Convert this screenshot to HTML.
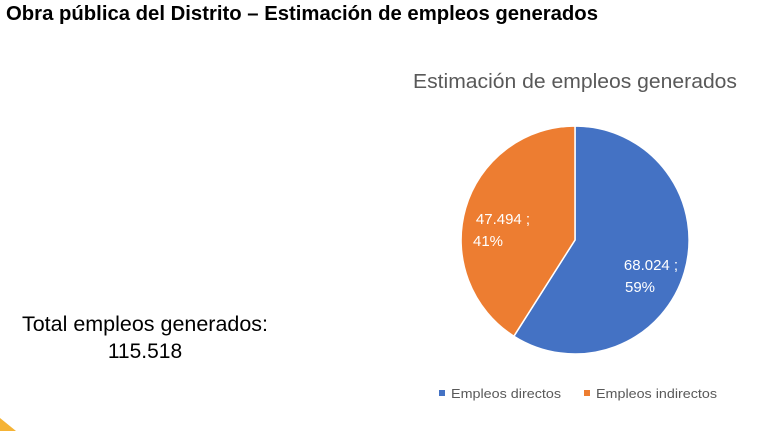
<!DOCTYPE html>
<html><head><meta charset="utf-8"><style>
html,body{margin:0;padding:0;background:#fff;}
svg{display:block;font-family:"Liberation Sans",sans-serif;}
</style></head><body>
<svg width="764" height="431" viewBox="0 0 764 431" xmlns="http://www.w3.org/2000/svg">
<rect width="764" height="431" fill="#fff"/>
<text x="6" y="20" font-size="20" font-weight="bold" fill="#000" textLength="592" lengthAdjust="spacingAndGlyphs">Obra pública del Distrito – Estimación de empleos generados</text>
<text x="413" y="88" font-size="20" fill="#595959" textLength="324" lengthAdjust="spacingAndGlyphs">Estimación de empleos generados</text>
<path d="M575,240 L575,126 A114,114 0 1,1 513.9,336.2 Z" fill="#4472c4" stroke="#fff" stroke-width="1.5"/>
<path d="M575,240 L513.9,336.2 A114,114 0 0,1 575,126 Z" fill="#ed7d31" stroke="#fff" stroke-width="1.5"/>
<text x="503" y="224" font-size="15" fill="#fff" text-anchor="middle">47.494 ;</text>
<text x="488" y="246" font-size="15" fill="#fff" text-anchor="middle">41%</text>
<text x="651" y="270" font-size="15" fill="#fff" text-anchor="middle">68.024 ;</text>
<text x="640" y="292" font-size="15" fill="#fff" text-anchor="middle">59%</text>
<rect x="439" y="390" width="6" height="6" fill="#4472c4"/>
<text x="451" y="398" font-size="13" fill="#595959" textLength="110" lengthAdjust="spacingAndGlyphs">Empleos directos</text>
<rect x="584" y="390" width="6" height="6" fill="#ed7d31"/>
<text x="596" y="398" font-size="13" fill="#595959" textLength="121" lengthAdjust="spacingAndGlyphs">Empleos indirectos</text>
<text x="145" y="331" font-size="21" fill="#000" text-anchor="middle" textLength="246" lengthAdjust="spacingAndGlyphs">Total empleos generados:</text>
<text x="145" y="358" font-size="21" fill="#000" text-anchor="middle">115.518</text>
<polygon points="0,418 0,431 16,431" fill="#f5b335"/>
</svg>
</body></html>
